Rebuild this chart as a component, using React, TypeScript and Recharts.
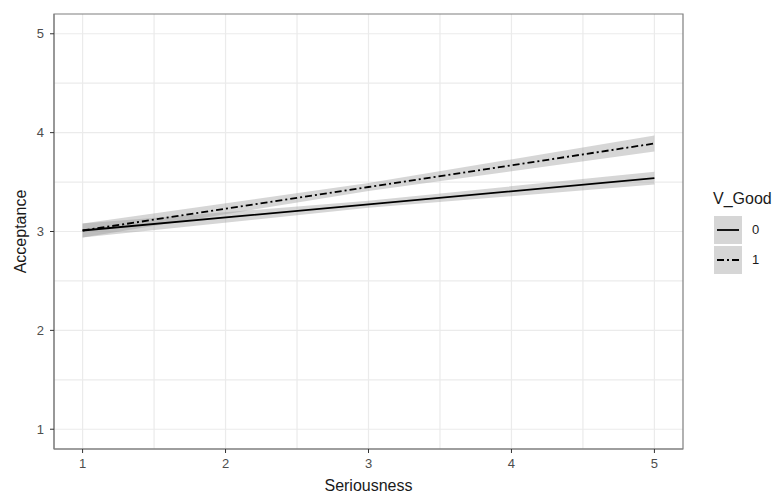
import { ComposedChart, Line, Area, XAxis, YAxis, CartesianGrid, ReferenceArea } from 'recharts';

const seriousness = [1, 3, 5];
const fitGood0 = [3.01, 3.275, 3.54];
const fitGood1 = [3.01, 3.45, 3.89];
const seGood0 = [0.07, 0.035, 0.065];
const seGood1 = [0.07, 0.04, 0.08];
const xTicks = [1, 2, 3, 4, 5];
const yTicks = [1, 2, 3, 4, 5];
const gridValues = [1, 1.5, 2, 2.5, 3, 3.5, 4, 4.5, 5];
const legendItems = ['0', '1'];

const data = seriousness.map((x, i) => ({
    x,
    g0: fitGood0[i],
    g1: fitGood1[i],
    band0: [fitGood0[i] - seGood0[i], fitGood0[i] + seGood0[i]],
    band1: [fitGood1[i] - seGood1[i], fitGood1[i] + seGood1[i]],
}));

const font = 'Liberation Sans, Arial, sans-serif';
const dash1 = '7 3 2 3';

const XTick = ({ x, y, payload }: any) => (
    <text x={x} y={y + 13} textAnchor="middle" fill="#4d4d4d" fontSize={13} fontFamily={font}>{payload.value}</text>
);
const YTick = ({ x, y, payload }: any) => (
    <text x={x - 4} y={y + 4.5} textAnchor="end" fill="#4d4d4d" fontSize={13} fontFamily={font}>{payload.value}</text>
);

const App = () => {
    return (
        <div style={{ position: 'absolute', left: 0, top: 0, width: 783, height: 496, background: '#fff', fontFamily: font }}>
            <ComposedChart width={783} height={496} data={data} margin={{ top: 14, right: 100, bottom: 0, left: 0 }}>
                <CartesianGrid stroke="#ebebeb" strokeWidth={1.2} horizontalValues={gridValues} verticalValues={gridValues} />
                <XAxis
                    dataKey="x"
                    type="number"
                    domain={[0.8, 5.2]}
                    ticks={xTicks}
                    height={47}
                    tickSize={4}
                    tickLine={{ stroke: '#333' }}
                    axisLine={{ stroke: '#7f7f7f' }}
                    tick={<XTick />}
                    label={{ value: 'Seriousness', position: 'insideBottom', offset: 5, fill: '#1a1a1a', fontSize: 16, fontFamily: font }}
                />
                <YAxis
                    type="number"
                    domain={[0.8, 5.2]}
                    ticks={yTicks}
                    width={54}
                    tickSize={4}
                    tickLine={{ stroke: '#333' }}
                    axisLine={{ stroke: '#7f7f7f' }}
                    tick={<YTick />}
                    label={{ value: 'Acceptance', angle: -90, position: 'insideLeft', offset: 20, fill: '#1a1a1a', fontSize: 16, fontFamily: font, style: { textAnchor: 'middle' } }}
                />
                <Area dataKey="band0" type="linear" stroke="none" fill="#999999" fillOpacity={0.4} isAnimationActive={false} />
                <Area dataKey="band1" type="linear" stroke="none" fill="#999999" fillOpacity={0.4} isAnimationActive={false} />
                <Line dataKey="g0" type="linear" stroke="#000" strokeWidth={1.8} dot={false} isAnimationActive={false} />
                <Line dataKey="g1" type="linear" stroke="#000" strokeWidth={1.8} strokeDasharray={dash1} dot={false} isAnimationActive={false} />
                <ReferenceArea x1={0.8} x2={5.2} y1={0.8} y2={5.2} fill="none" stroke="#7f7f7f" strokeWidth={1.2} />
            </ComposedChart>
            <div style={{ position: 'absolute', left: 713, top: 190, fontSize: 16, color: '#1a1a1a' }}>V_Good</div>
            {legendItems.map((label, i) => (
                <div key={label} style={{ position: 'absolute', left: 714, top: 216 + i * 30, width: 28, height: 28, background: '#d6d6d6' }}>
                    <svg width={28} height={28}>
                        <line x1={3} y1={14} x2={25} y2={14} stroke="#000" strokeWidth={1.8} strokeDasharray={i === 1 ? dash1 : undefined} />
                    </svg>
                    <span style={{ position: 'absolute', left: 38, top: 6, fontSize: 13, color: '#1a1a1a' }}>{label}</span>
                </div>
            ))}
        </div>
    );
};

export default App;
